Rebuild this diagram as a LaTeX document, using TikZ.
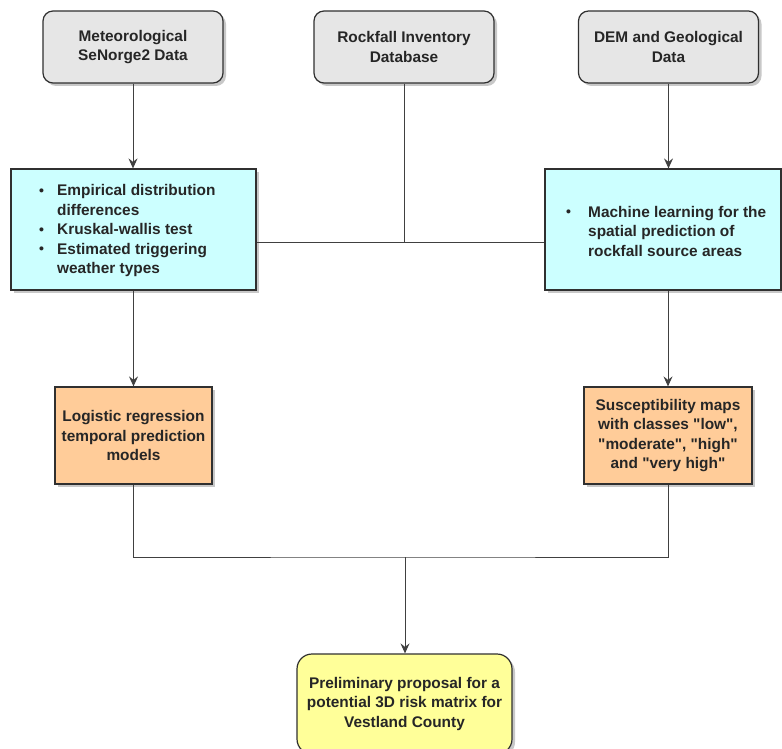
\documentclass[tikz,border=0pt]{standalone}
\usepackage{fontspec}
\setmainfont[Ligatures=TeXOff]{Liberation Sans}
\usetikzlibrary{arrows.meta,shadows,calc}
\definecolor{graybox}{HTML}{E6E6E6}
\definecolor{cyanbox}{HTML}{CCFFFF}
\definecolor{orangebox}{HTML}{FFCC99}
\definecolor{yellowbox}{HTML}{FFFF99}
\definecolor{edge}{HTML}{303030}
\definecolor{txt}{HTML}{262626}
\definecolor{shad}{HTML}{C8C8C8}
\definecolor{conn}{HTML}{404040}
\newcommand\bulA{\makebox[17pt][l]{\hspace{-1pt}{\fontsize{14}{14}\selectfont\raisebox{0.5pt}{•}}}}
\newcommand\bulB{\makebox[21pt][l]{\hspace{-1pt}{\fontsize{14}{14}\selectfont\raisebox{0.5pt}{•}}}}
\begin{document}
\begin{tikzpicture}[x=1pt,y=-1pt,
  every node/.style={font=\fontsize{15.4}{19.5}\selectfont\bfseries, text=txt},
  boxbase/.style={draw=edge, line width=1.2pt, inner sep=0pt, align=center,
    drop shadow={shadow xshift=3pt, shadow yshift=-3pt, fill=shad, opacity=1}},
  srcbox/.style={boxbase, fill=graybox, rounded corners=10pt, minimum width=180pt, minimum height=72pt},
  procbox/.style={boxbase, fill=cyanbox, minimum height=121pt},
  outbox/.style={boxbase, fill=orangebox, minimum height=97pt},
  finalbox/.style={boxbase, fill=yellowbox, rounded corners=15pt, minimum width=215pt, minimum height=100pt},
  conline/.style={draw=conn, line width=1pt},
  arr/.style={conline, -{Stealth[length=10pt,width=9pt,inset=3.5pt]}}
]
\useasboundingbox (0,0) rectangle (782,749);
% source boxes
\node[srcbox] (g1) at (133,47) {Meteorological\\SeNorge2 Data};
\node[srcbox] (g2) at (404,47) {Rockfall Inventory\\Database};
\node[srcbox] (g3) at (668.5,47) {DEM and Geological\\Data};
% processing boxes
\node[procbox, minimum width=245pt] (c1) at (133.5,229.5) {};
\node[anchor=west, align=left, inner sep=0pt] (t1) at (40,231)
  {\bulA Empirical distribution\\\hspace*{17pt}differences\\\bulA Kruskal-wallis test\\\bulA Estimated triggering\\\hspace*{17pt}weather types};
\node[procbox, minimum width=236pt] (c2) at (663,229.5) {};
\node[anchor=west, align=left, inner sep=0pt] (t2) at (567,231)
  {\bulB Machine learning for the\\\hspace*{21pt}spatial prediction of\\\hspace*{21pt}rockfall source areas};
% outputs
\node[outbox, minimum width=157pt] (o1) at (133.5,435.5) {Logistic regression\\temporal prediction\\models};
\node[outbox, minimum width=168pt] (o2) at (668,435.5) {Susceptibility maps\\with classes "low",\\"moderate", "high"\\and "very high"};
% final
\node[finalbox] (f) at (404.5,704) {Preliminary proposal for a\\potential 3D risk matrix for\\Vestland County};
% junctions
\coordinate (j1) at (404,242);
\coordinate (j2) at (405,557);
% connectors
\draw[arr] (g1) -- (c1.north -| g1);
\draw[arr] (g3) -- (c2.north -| g3);
\draw[conline] (g2) -- (j1);
\draw[conline] (c1.east |- j1) -- (c2.west |- j1);
\draw[arr] (c1.south -| o1) -- (o1);
\draw[arr] (c2.south -| o2) -- (o2);
\draw[conline] (o1) |- (j2) -| (o2);
\draw[arr] (j2) -- (f.north -| j2);
\end{tikzpicture}
\end{document}
